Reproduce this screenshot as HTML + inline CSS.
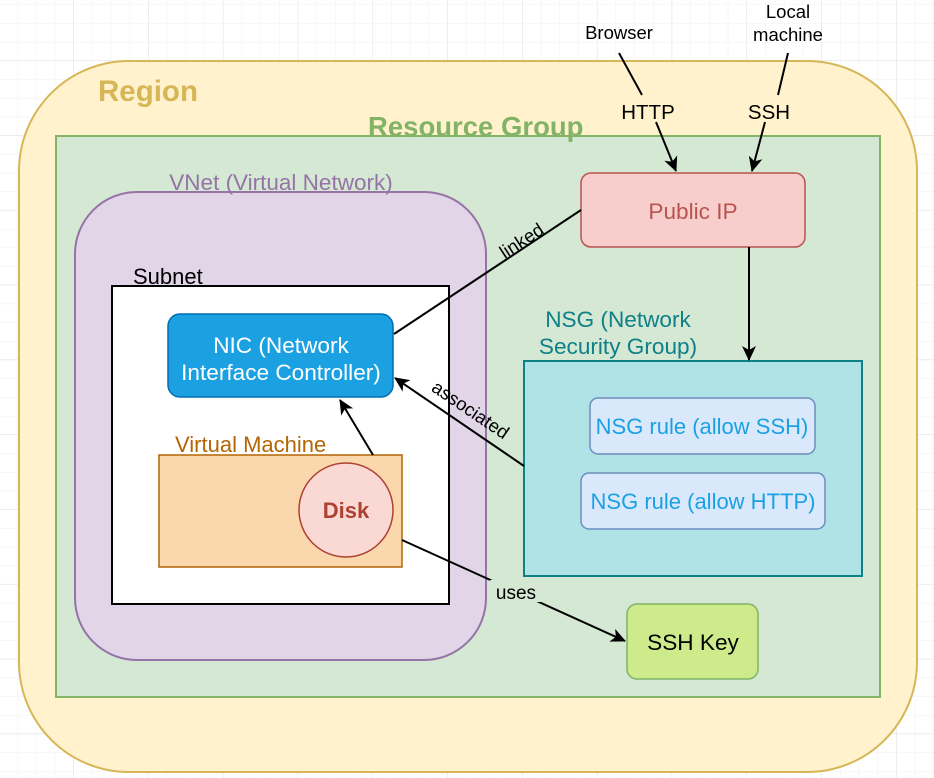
<!DOCTYPE html>
<html><head><meta charset="utf-8"><style>
html,body{margin:0;padding:0;background:#fff}
svg{display:block}
text{font-family:"Liberation Sans",sans-serif}
</style></head><body>
<svg width="934" height="778" viewBox="0 0 934 778" xmlns="http://www.w3.org/2000/svg">
<defs>
<pattern id="g" x="-1" y="5" width="18.7" height="18.7" patternUnits="userSpaceOnUse">
<path d="M18.7 0V18.7M0 18.7H18.7" stroke="#f0f0f0" stroke-width="1" fill="none"/>
</pattern>
<pattern id="G" x="-1" y="-14" width="74.8" height="74.8" patternUnits="userSpaceOnUse">
<path d="M74.8 0V74.8M0 74.8H74.8" stroke="#e2e2e2" stroke-width="1" fill="none"/>
</pattern>
<marker id="a" markerWidth="16" markerHeight="14" refX="14" refY="7" orient="auto" markerUnits="userSpaceOnUse">
<path d="M0,0 L15,7 L0,14 L4,7 Z" fill="#000"/>
</marker>
</defs>
<rect width="934" height="778" fill="url(#g)"/>
<rect width="934" height="778" fill="url(#G)"/>
<rect x="19" y="61" width="898" height="711" rx="110" fill="#fff2cc" stroke="#d6b656" stroke-width="2"/>
<text x="98" y="101" font-size="29.5" font-weight="bold" fill="#d6b656">Region</text>
<rect x="56" y="136" width="824" height="561" fill="#d5e8d4" stroke="#82b366" stroke-width="2"/>
<text x="368" y="136" font-size="27.5" font-weight="bold" fill="#82b366">Resource Group</text>
<rect x="75" y="192" width="411" height="468" rx="62" fill="#e1d5e7" stroke="#9673a6" stroke-width="2"/>
<text x="281" y="190" font-size="22.5" fill="#9673a6" text-anchor="middle">VNet (Virtual Network)</text>
<rect x="112" y="286" width="337" height="318" fill="#fff" stroke="#000" stroke-width="2"/>
<text x="133" y="284" font-size="22" fill="#000">Subnet</text>
<rect x="168" y="314" width="225" height="83" rx="12" fill="#1ba1e2" stroke="#006eaf" stroke-width="1.5"/>
<text x="281" y="353" font-size="22.6" fill="#fff" text-anchor="middle">NIC (Network</text>
<text x="281" y="380" font-size="22.6" fill="#fff" text-anchor="middle">Interface Controller)</text>
<rect x="159" y="455" width="243" height="112" fill="#fad7ac" stroke="#b46504" stroke-width="1.5"/>
<text x="175" y="452" font-size="22" fill="#b46504">Virtual Machine</text>
<circle cx="346" cy="510" r="47" fill="#fad9d5" stroke="#ae4132" stroke-width="1.5"/>
<text x="346" y="518" font-size="22" font-weight="bold" fill="#ae4132" text-anchor="middle">Disk</text>
<rect x="581" y="173" width="224" height="74" rx="10" fill="#f8cecc" stroke="#b85450" stroke-width="1.5"/>
<text x="693" y="219" font-size="22.6" fill="#b85450" text-anchor="middle">Public IP</text>
<rect x="524" y="361" width="338" height="215" fill="#b0e3e6" stroke="#0e8088" stroke-width="2"/>
<text x="618" y="327" font-size="22.6" fill="#0e8088" text-anchor="middle">NSG (Network</text>
<text x="618" y="354" font-size="22.6" fill="#0e8088" text-anchor="middle">Security Group)</text>
<rect x="590" y="398" width="225" height="56" rx="8" fill="#dae8fc" stroke="#6c8ebf" stroke-width="1.5"/>
<text x="702" y="434" font-size="22" fill="#1ba1e2" text-anchor="middle">NSG rule (allow SSH)</text>
<rect x="581" y="473" width="244" height="56" rx="8" fill="#dae8fc" stroke="#6c8ebf" stroke-width="1.5"/>
<text x="703" y="509" font-size="22" fill="#1ba1e2" text-anchor="middle">NSG rule (allow HTTP)</text>
<rect x="627" y="604" width="131" height="75" rx="10" fill="#cdeb8b" stroke="#82b366" stroke-width="1.5"/>
<text x="693" y="650" font-size="22.6" fill="#000" text-anchor="middle">SSH Key</text>
<g stroke="#000" stroke-width="2" fill="none">
<path d="M581 210 L394 334"/>
<path d="M524 466 L395 378" marker-end="url(#a)"/>
<path d="M373 455 L340 400" marker-end="url(#a)"/>
<path d="M749 247 L749 360" marker-end="url(#a)"/>
<path d="M402 540 L625 641" marker-end="url(#a)"/>
<path d="M619 53 L642 95 M656 122 L676 171" marker-end="url(#a)"/>
<path d="M788 53 L778 95 M765 122 L752 171" marker-end="url(#a)"/>
</g>
<text x="525" y="246" font-size="18.5" fill="#000" text-anchor="middle" transform="rotate(-33 525 246)">linked</text>
<text x="467" y="415" font-size="18.5" fill="#000" text-anchor="middle" transform="rotate(34 467 415)">associated</text>
<rect x="490" y="580" width="54" height="22" fill="#d5e8d4"/>
<text x="516" y="599" font-size="19" fill="#000" text-anchor="middle">uses</text>
<text x="648" y="119" font-size="20.5" fill="#000" text-anchor="middle">HTTP</text>
<text x="769" y="119" font-size="20.5" fill="#000" text-anchor="middle">SSH</text>
<text x="619" y="39" font-size="18.5" fill="#000" text-anchor="middle">Browser</text>
<text x="788" y="18" font-size="18.5" fill="#000" text-anchor="middle">Local</text>
<text x="788" y="41" font-size="18.5" fill="#000" text-anchor="middle">machine</text>
</svg>
</body></html>
